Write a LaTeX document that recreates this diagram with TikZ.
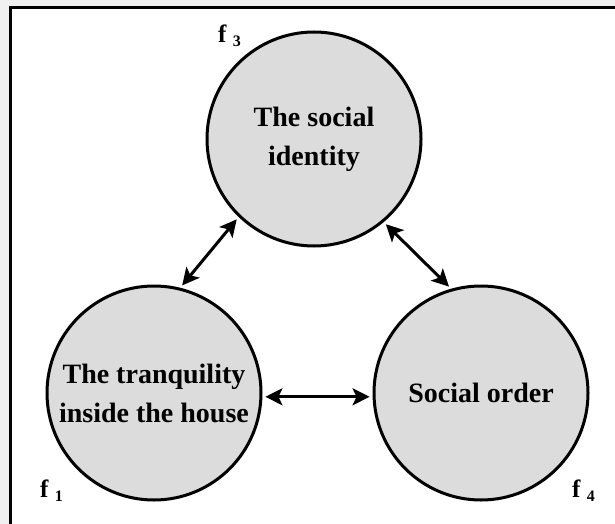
\documentclass[tikz,border=0pt]{standalone}
\usepackage{fontspec}
\setmainfont{Liberation Serif}
\usepackage{tikz}
\usetikzlibrary{arrows.meta}

\definecolor{circgray}{HTML}{DCDCDC}
\definecolor{pagegray}{HTML}{F0F0F0}

\newcommand{\flabel}[1]{\fontsize{25}{25}\selectfont\textbf{f}\hspace{6pt}\raisebox{-4pt}{\fontsize{16}{16}\selectfont\textbf{#1}}}

\begin{document}
\begin{tikzpicture}[x=1pt, y=-1pt,
    factor/.style={circle, draw, line width=3pt, fill=circgray, minimum size=214pt, inner sep=0pt,
        align=center, font=\fontsize{28}{39}\selectfont\bfseries},
    link/.style={line width=3pt, shorten <=3pt, shorten >=3pt,
        {Stealth[length=17pt,width=17pt,inset=4pt]}-{Stealth[length=17pt,width=17pt,inset=4pt]}}]

\useasboundingbox (0,0) rectangle (615,524);
\fill[pagegray] (0,0) rectangle (615,524);
\fill[white] (10.5,7.5) rectangle (615,524);
\draw[line width=3pt] (615,7.5) -- (10.5,7.5) -- (10.5,524);

% Factors
\node[factor] (top) at (314,139) {The social\\identity};
\node[factor] (left) at (154,393) {The tranquility\\inside the house};
\node[factor] (right) at (481,393) {Social order};

% Labels
\node[anchor=base west, inner sep=0pt] (f3) at (218,43) {\flabel{3}};
\node[anchor=base west, inner sep=0pt] (f1) at (40,497) {\flabel{1}};
\node[anchor=base west, inner sep=0pt] (f4) at (572,497) {\flabel{4}};

% Connections
\draw[link] (left.76) -- (top.226);
\draw[link] (top.310) -- (right.106);
\draw[link] (left.-2) -- (right.182);

\end{tikzpicture}
\end{document}
